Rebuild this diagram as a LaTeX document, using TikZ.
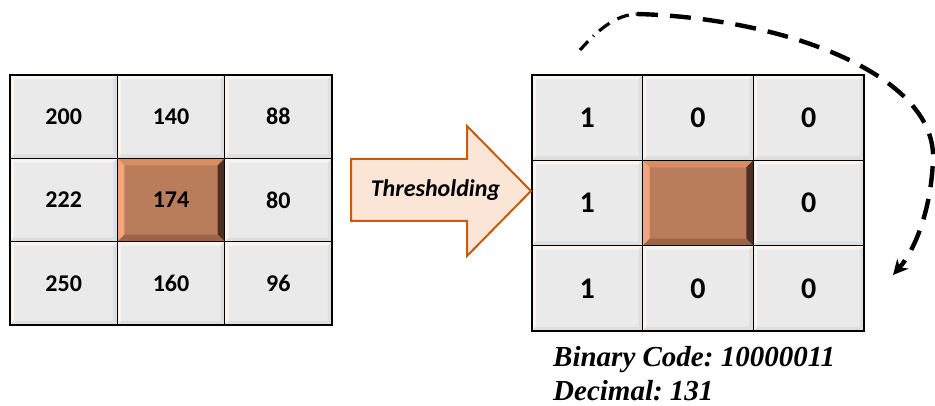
\documentclass[tikz,border=0pt]{standalone}
\usepackage{fontspec}
\newfontfamily\calib{Carlito}
\newfontfamily\tnr{Liberation Serif}
\usetikzlibrary{arrows.meta}
\definecolor{cellgrey}{HTML}{EAEAEA}
\definecolor{bevlight}{HTML}{FBF3EE}
\definecolor{bevdark}{HTML}{DEDEDE}
\definecolor{brownmain}{HTML}{B97D5B}
\definecolor{browntop}{HTML}{D98D62}
\definecolor{brownleft}{HTML}{F5A47A}
\definecolor{brownright}{HTML}{4D3022}
\definecolor{brownbot}{HTML}{9D6547}
\definecolor{arrowfill}{HTML}{FBE5D6}
\definecolor{arrowline}{HTML}{C55A11}
\newcommand{\bevelfill}[5]{%
  \fill[#2] (path picture bounding box.north west) -- (path picture bounding box.north east)
    -- ([shift={(-#1,#1)}]path picture bounding box.north east) -- ([shift={(#1,#1)}]path picture bounding box.north west) -- cycle;
  \fill[#3] (path picture bounding box.north west) -- (path picture bounding box.south west)
    -- ([shift={(#1,-#1)}]path picture bounding box.south west) -- ([shift={(#1,#1)}]path picture bounding box.north west) -- cycle;
  \fill[#4] (path picture bounding box.north east) -- (path picture bounding box.south east)
    -- ([shift={(-#1,-#1)}]path picture bounding box.south east) -- ([shift={(-#1,#1)}]path picture bounding box.north east) -- cycle;
  \fill[#5] (path picture bounding box.south west) -- (path picture bounding box.south east)
    -- ([shift={(-#1,-#1)}]path picture bounding box.south east) -- ([shift={(#1,-#1)}]path picture bounding box.south west) -- cycle;
}
\tikzset{
  greycell/.style={draw=black, line width=1.6pt, fill=cellgrey, inner sep=0pt,
    path picture={\bevelfill{4}{bevlight}{bevlight}{bevdark}{bevdark}}},
  browncell/.style={draw=black, line width=1.6pt, fill=brownmain, inner sep=0pt,
    path picture={\bevelfill{7}{browntop}{brownleft}{brownright}{brownbot}}},
  lsize/.style={minimum width=107.33pt, minimum height=83.33pt, font=\calib\bfseries\fontsize{24}{28}\selectfont},
  rsize/.style={minimum width=110.67pt, minimum height=85.33pt, font=\calib\bfseries\fontsize{30}{34}\selectfont},
  caption/.style={anchor=base west, inner sep=0pt, font=\tnr\bfseries\itshape\fontsize{29}{32}\selectfont\frenchspacing},
  loop/.style={line width=4.4pt, black},
}
\begin{document}
\begin{tikzpicture}[x=1pt,y=-1pt]
\useasboundingbox (0,0) rectangle (935,406);
% left grid
\node[greycell,lsize] (l11) at (63.67,116.67) {200};
\node[greycell,lsize] (l12) at (171,116.67) {140};
\node[greycell,lsize] (l13) at (278.33,116.67) {88};
\node[greycell,lsize] (l21) at (63.67,200) {222};
\node[browncell,lsize] (l22) at (171,200) {174};
\node[greycell,lsize] (l23) at (278.33,200) {80};
\node[greycell,lsize] (l31) at (63.67,283.33) {250};
\node[greycell,lsize] (l32) at (171,283.33) {160};
\node[greycell,lsize] (l33) at (278.33,283.33) {96};
% right grid
\node[greycell,rsize] (r11) at (587.33,117.67) {1};
\node[greycell,rsize] (r12) at (698,117.67) {0};
\node[greycell,rsize] (r13) at (808.67,117.67) {0};
\node[greycell,rsize] (r21) at (587.33,203) {1};
\node[browncell,rsize] (r22) at (698,203) {};
\node[greycell,rsize] (r23) at (808.67,203) {0};
\node[greycell,rsize] (r31) at (587.33,288.33) {1};
\node[greycell,rsize] (r32) at (698,288.33) {0};
\node[greycell,rsize] (r33) at (808.67,288.33) {0};
% arrow
\draw[line width=2pt, draw=arrowline, fill=arrowfill, line join=miter]
  (351,159) -- (467,159) -- (467,126) -- (531,191) -- (467,256) -- (467,221) -- (351,221) -- cycle;
\node[anchor=base, inner sep=0pt, font=\calib\bfseries\itshape\fontsize{24}{28}\selectfont] (thr) at (435.5,197) {Thresholding};
% captions
\node[caption] (bin) at (553,366) {Binary Code: 10000011};
\node[caption] (dec) at (553,400) {Decimal: 131};
% loop arrow
\coordinate (ls) at (580,50);
\coordinate (lm) at (637,14);
\coordinate (le) at (893,275);
\draw[loop, line width=3.2pt, dash pattern=on 12pt off 7pt on 1pt off 7pt on 13pt off 9pt]
  (ls) .. controls (598,30) and (615,15) .. (lm);
\draw[loop, dash pattern=on 21pt off 12pt, -{Stealth[length=15pt,width=15pt]}]
  (lm) .. controls (785,18) and (937,75) .. (933,160) .. controls (931,210) and (915,250) .. (le);
\end{tikzpicture}
\end{document}
